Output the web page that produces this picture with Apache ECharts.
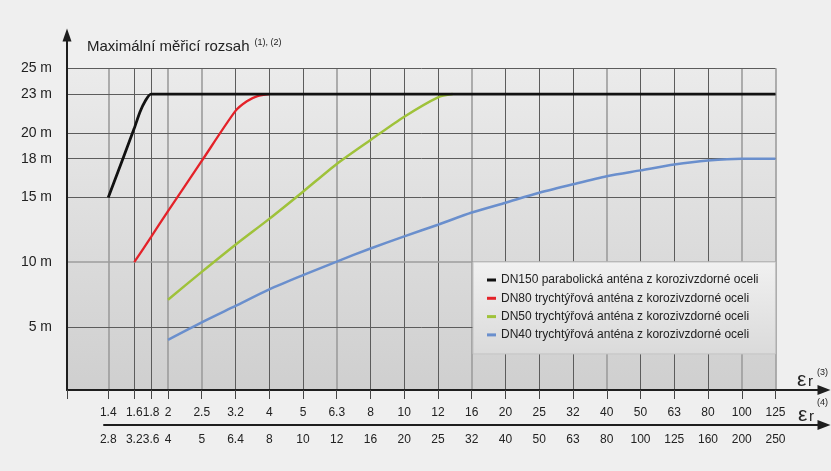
<!DOCTYPE html>
<html><head><meta charset="utf-8">
<script src="https://cdn.jsdelivr.net/npm/echarts@6/dist/echarts.min.js"></script>
<style>html,body{margin:0;padding:0;background:#efefef}#c{width:831px;height:471px}</style>
</head><body><div id="c"></div>
<script>
// ---- data ----
const xTicks = [1.4,1.6,1.8,2,2.5,3.2,4,5,6.3,8,10,12,16,20,25,32,40,50,63,80,100,125];
const xLabels1 = ['1.4','1.6','1.8','2','2.5','3.2','4','5','6.3','8','10','12','16','20','25','32','40','50','63','80','100','125'];
const xLabels2 = ['2.8','3.2','3.6','4','5','6.4','8','10','12','16','20','25','32','40','50','63','80','100','125','160','200','250'];
const xTickSteps = [-1.77,-1,-0.5,0,1,2,3,4,5,6,7,8,9,10,11,12,13,14,15,16,17,18];
const yTicks = [5,10,15,18,20,23,25];
const seriesNames = [
  'DN150 parabolická anténa z korozivzdorné oceli',
  'DN80 trychtýřová anténa z korozivzdorné oceli',
  'DN50 trychtýřová anténa z korozivzdorné oceli',
  'DN40 trychtýřová anténa z korozivzdorné oceli'
];
const dn150 = [[1.4,15],[1.6,20.35],[1.664,21.6],[1.726,22.45],[1.8,23],[125,23]];
const dn80 = [[1.6,10],[1.8,11.96],[2,13.95],[2.5,17.83],[3.2,21.7],[3.45,22.45],[3.7,22.85],[4,23]];
const dn50 = [[2,7.1],[2.5,9.25],[3.2,11.35],[4,13.35],[5,15.45],[6.3,17.6],[8,19.45],[10,21.25],[12,22.75],[13.6,23]];
const dn40 = [[2,4.0],[2.5,5.35],[3.2,6.62],[4,7.9],[5,9.0],[6.3,10.05],[8,11.06],[10,12.0],[12,12.9],[16,13.84],[20,14.6],[25,15.37],[32,16.03],[40,16.65],[50,17.1],[63,17.55],[80,17.86],[100,18.0],[125,18.0]];

// ---- scale helpers ----
function pos(er){
  for(let i=0;i<xTicks.length-1;i++){
    if(er<=xTicks[i+1]+1e-9){
      const f=Math.log(er/xTicks[i])/Math.log(xTicks[i+1]/xTicks[i]);
      return xTickSteps[i]+f*(xTickSteps[i+1]-xTickSteps[i]);
    }
  }
  return xTickSteps[xTickSteps.length-1];
}
const STEP=33.75, ORIGIN=168, AX_L=67, AX2_L=104, AX_END=824;
const xMin1=(AX_L-ORIGIN)/STEP, xMax=(AX_END-ORIGIN)/STEP, xMin2=(AX2_L-ORIGIN)/STEP;
const yMin=0.116, yMax=27.57;
const xEnd=pos(125), yTop=25;
function lab(arr){return v=>{const i=xTickSteps.findIndex(p=>Math.abs(p-v)<1e-6);return i<0?'':arr[i];};}
const conv = d=>d.map(p=>[pos(p[0]),p[1]]);

const FONT='"Liberation Sans", Arial, sans-serif';
const lightV=new Set(['1.4','2','2.5','6.3','16','40','100','125']);
const gridLines=[];
xTickSteps.forEach((p,i)=>{
  const light=lightV.has(xLabels1[i]);
  gridLines.push([{coord:[p,yMin],lineStyle:{color:light?'#9c9c9c':'#5c5c5c',width:light?1.6:1,type:'solid'}},{coord:[p,yTop]}]);
});
yTicks.forEach(v=>{
  const light=(v===10);
  gridLines.push([{coord:[xMin1,v],lineStyle:{color:light?'#9c9c9c':'#5c5c5c',width:light?1.6:1,type:'solid'}},{coord:[xEnd,v]}]);
});

const chart=echarts.init(document.getElementById('c'));
const colors=['#111111','#e42229','#9fc23a','#6a8fcd'];
const lineSeries=(name,data,color,width,z)=>({type:'line',name,data:conv(data),smooth:0.25,showSymbol:false,symbol:'none',z,
  lineStyle:{color,width},itemStyle:{color}});
chart.setOption({
  animation:false,
  backgroundColor:'#efefef',
  textStyle:{fontFamily:FONT},
  title:{
    left:87, top:38, padding:0,
    text:'{a|Maximální měřicí rozsah} {s|(1), (2)}',
    textStyle:{fontWeight:'normal',rich:{
      a:{fontSize:15,lineHeight:18,color:'#222',fontFamily:FONT,fontWeight:'normal'},
      s:{fontSize:9,lineHeight:18,verticalAlign:'top',color:'#222',fontFamily:FONT,fontWeight:'normal'}
    }}
  },
  legend:{
    orient:'vertical', left:473, top:262,
    padding:[11,17,12,14], itemGap:4.3, itemWidth:9, itemHeight:3, icon:'rect',
    data:seriesNames,
    textStyle:{fontSize:12,lineHeight:14,color:'#222',fontFamily:FONT},
    backgroundColor:new echarts.graphic.LinearGradient(0,0,0,1,[{offset:0,color:'#f1f1f1'},{offset:1,color:'#dadada'}]),
    borderColor:'#c4c4c4', borderWidth:1
  },
  grid:[
    {left:AX_L,right:831-AX_END,top:35,bottom:81,outerBoundsMode:'none',containLabel:false},
    {left:AX2_L,right:831-AX_END,top:424,height:1,outerBoundsMode:'none',containLabel:false}
  ],
  xAxis:[
    {type:'value',gridIndex:0,min:xMin1,max:xMax,z:10,
     axisLine:{show:true,onZero:false,lineStyle:{color:'#1e1e1e',width:2},symbol:['none','triangle'],symbolSize:[10,13]},
     axisTick:{show:true,length:9,lineStyle:{color:'#444',width:1},customValues:[xMin1].concat(xTickSteps)},
     axisLabel:{show:true,customValues:xTickSteps,formatter:lab(xLabels1),fontSize:12,color:'#222',margin:17,hideOverlap:false,fontFamily:FONT},
     splitLine:{show:false}},
    {type:'value',gridIndex:1,min:xMin2,max:xMax,z:10,
     axisLine:{show:true,onZero:false,lineStyle:{color:'#1e1e1e',width:2},symbol:['none','triangle'],symbolSize:[10,13]},
     axisTick:{show:false},
     axisLabel:{show:true,customValues:xTickSteps,formatter:lab(xLabels2),fontSize:12,color:'#222',margin:9,hideOverlap:false,fontFamily:FONT},
     splitLine:{show:false}},
  ],
  yAxis:[
    {type:'value',gridIndex:0,min:yMin,max:yMax,z:10,
     axisLine:{show:true,onZero:false,lineStyle:{color:'#1e1e1e',width:2},symbol:['none','triangle'],symbolSize:[9,13]},
     axisTick:{show:false,customValues:yTicks},
     axisLabel:{show:true,customValues:yTicks,formatter:'{value} m',fontSize:14,color:'#222',margin:15,fontFamily:FONT},
     splitLine:{show:false}},
    {type:'value',gridIndex:1,min:0,max:1,show:false}
  ],
  graphic:[
    {type:'text',x:797,y:380,style:{text:'ε',fontSize:21,fontFamily:FONT,fill:'#222',textVerticalAlign:'middle',verticalAlign:'middle'}},
    {type:'text',x:808,y:382,style:{text:'r',fontSize:15,fontFamily:FONT,fill:'#222',textVerticalAlign:'middle',verticalAlign:'middle'}},
    {type:'text',x:817,y:373,style:{text:'(3)',fontSize:9,fontFamily:FONT,fill:'#222',textVerticalAlign:'middle',verticalAlign:'middle'}},
    {type:'text',x:798,y:415,style:{text:'ε',fontSize:21,fontFamily:FONT,fill:'#222',textVerticalAlign:'middle',verticalAlign:'middle'}},
    {type:'text',x:809,y:417,style:{text:'r',fontSize:15,fontFamily:FONT,fill:'#222',textVerticalAlign:'middle',verticalAlign:'middle'}},
    {type:'text',x:817,y:402.5,style:{text:'(4)',fontSize:9,fontFamily:FONT,fill:'#222',textVerticalAlign:'middle',verticalAlign:'middle'}}
  ],
  series:[
    {type:'line',name:'_bg',data:[],xAxisIndex:0,yAxisIndex:0,silent:true,z:0,
     markArea:{silent:true,z:0,animation:false,
       itemStyle:{color:new echarts.graphic.LinearGradient(0,0,0,1,[{offset:0,color:'#ebebeb'},{offset:1,color:'#cfcfcf'}])},
       data:[[{coord:[xMin1,yMin]},{coord:[xEnd,yTop]}]]}},
    {type:'line',name:'_grid',data:[],xAxisIndex:0,yAxisIndex:0,silent:true,z:1,
     markLine:{silent:true,z:1,animation:false,symbol:['none','none'],label:{show:false},data:gridLines}},
    lineSeries(seriesNames[3],dn40,colors[3],2.5,3),
    lineSeries(seriesNames[2],dn50,colors[2],2.5,4),
    lineSeries(seriesNames[1],dn80,colors[1],2.3,5),
    lineSeries(seriesNames[0],dn150,colors[0],2.8,6)
  ]
});
</script></body></html>
